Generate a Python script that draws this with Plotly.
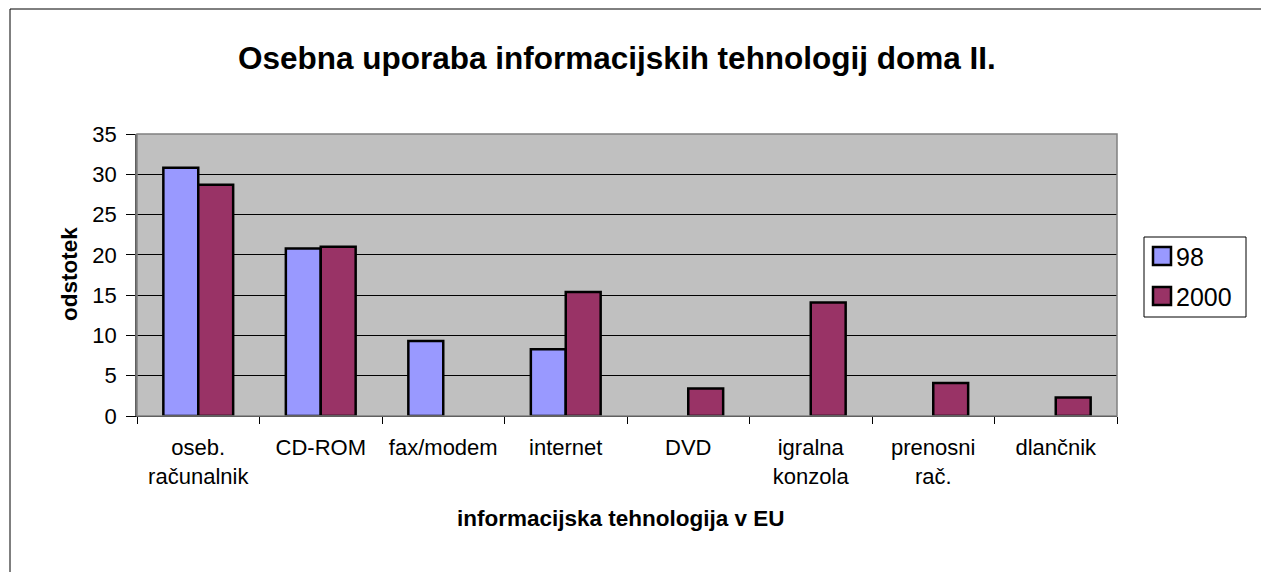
import plotly.graph_objects as go

# Data
categories = ["oseb.<br>računalnik", "CD-ROM", "fax/modem", "internet", "DVD",
              "igralna<br>konzola", "prenosni<br>rač.", "dlančnik"]
values_98 = [30.8, 20.8, 9.3, 8.3, None, None, None, None]
values_2000 = [28.7, 21.0, None, 15.4, 3.4, 14.1, 4.1, 2.3]
y_ticks = [0, 5, 10, 15, 20, 25, 30, 35]
series_names = ["98", "2000"]
series_colors = ["#9999FF", "#993366"]

font_name = "Liberation Sans, Arial, sans-serif"

# page has an 8px body margin, plot area sits at x 137..1117, y 134..416 on the page
PL, PR, PT, PB = 137, 1117, 134, 416


def px(x):
    return (x - PL) / (PR - PL)


def py(y):
    return (PB - y) / (PB - PT)


fig = go.Figure()
for name, vals, col in zip(series_names, [values_98, values_2000], series_colors):
    fig.add_trace(go.Bar(
        x=categories, y=vals, name=name,
        marker=dict(color=col, line=dict(color="black", width=2.5)),
    ))

fig.update_layout(
    width=1261, height=564,
    margin=dict(l=129, r=152, t=126, b=156),
    paper_bgcolor="white",
    plot_bgcolor="#C0C0C0",
    barmode="group",
    bargap=0.43,
    bargroupgap=0,
    font=dict(family=font_name, size=22, color="black"),
    showlegend=False,
)

fig.update_xaxes(
    type="category",
    tickson="boundaries",
    ticks="outside", ticklen=7, tickcolor="black",
    ticklabelstandoff=12,
    showline=True, linecolor="black", linewidth=1,
    showgrid=False,
)
fig.update_yaxes(
    range=[0, 35],
    tickvals=y_ticks,
    ticks="outside", ticklen=9, tickcolor="black",
    ticklabelstandoff=5,
    showline=True, linecolor="#606060", linewidth=1.5,
    showgrid=True, gridcolor="black", gridwidth=1,
    zeroline=False,
)

# titles
fig.add_annotation(text="<b>Osebna uporaba informacijskih tehnologij doma II.</b>",
                   xref="paper", yref="paper", x=px(616.5), y=py(58),
                   xanchor="center", yanchor="middle", showarrow=False,
                   font=dict(size=31.5))
fig.add_annotation(text="<b>informacijska tehnologija v EU</b>",
                   xref="paper", yref="paper", x=px(620.5), y=py(518),
                   xanchor="center", yanchor="middle", showarrow=False,
                   font=dict(size=22.5))
fig.add_annotation(text="<b>odstotek</b>", textangle=-90,
                   xref="paper", yref="paper", x=px(69), y=py(274),
                   xanchor="center", yanchor="middle", showarrow=False,
                   font=dict(size=22.5))

# plot area frame and outer chart border
fig.add_shape(type="rect", xref="paper", yref="paper", x0=0, y0=0, x1=1, y1=1,
              line=dict(color="#808080", width=1.5), layer="above")
fig.add_shape(type="rect", xref="paper", yref="paper",
              x0=px(10), y0=py(9), x1=px(1300), y1=py(600),
              line=dict(color="black", width=1))

# legend box drawn by hand (large square keys like the original)
fig.add_shape(type="rect", xref="paper", yref="paper",
              x0=px(1144), y0=py(237), x1=px(1246), y1=py(317),
              line=dict(color="black", width=1), fillcolor="white")
for i, (name, col) in enumerate(zip(series_names, series_colors)):
    top = 247 + i * 40
    fig.add_shape(type="rect", xref="paper", yref="paper",
                  x0=px(1153), y0=py(top), x1=px(1171), y1=py(top + 18),
                  line=dict(color="black", width=2.5), fillcolor=col)
    fig.add_annotation(text=name, xref="paper", yref="paper",
                       x=px(1174), y=py(top + 10), xanchor="left", yanchor="middle",
                       showarrow=False, font=dict(size=25))

fig.write_html("out.html")
